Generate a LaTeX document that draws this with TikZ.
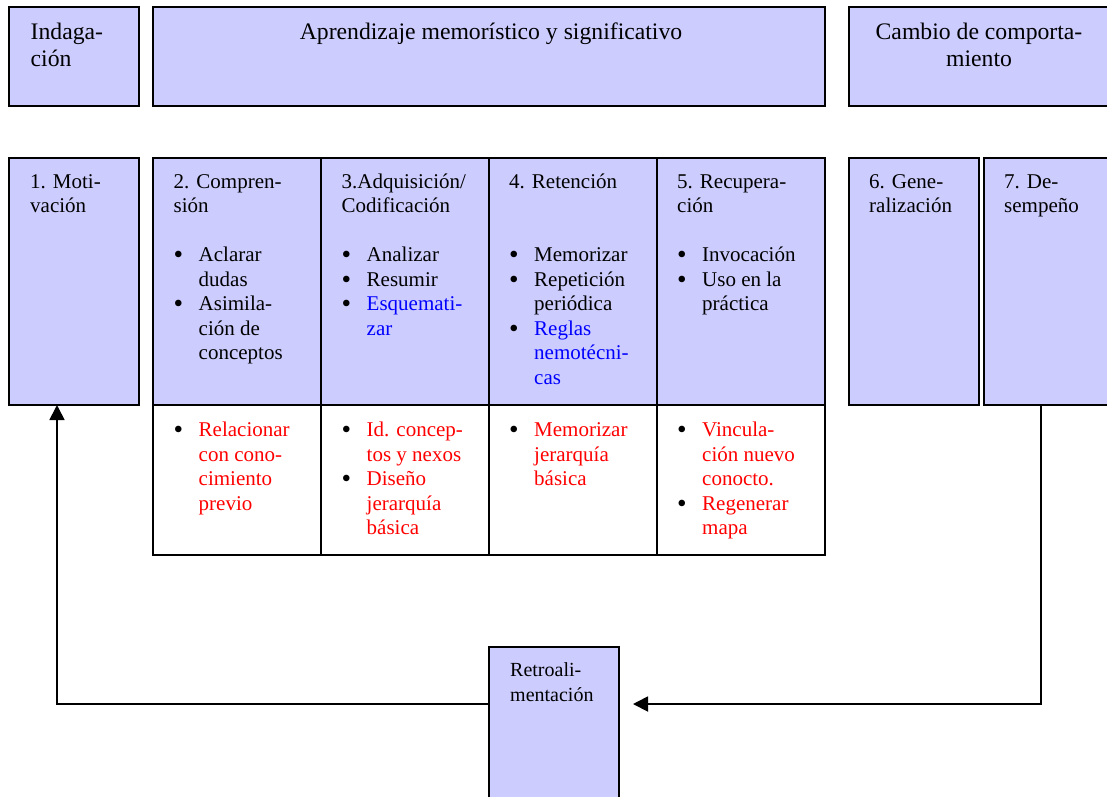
\documentclass[tikz,border=0pt]{standalone}
\usepackage{fontspec}
\setmainfont{Liberation Serif}
\usetikzlibrary{arrows.meta}
\definecolor{lav}{RGB}{204,204,255}
\definecolor{bluetxt}{RGB}{0,0,255}
\definecolor{redtxt}{RGB}{255,0,0}
% bullet line and continuation line of a list
\newcommand{\bigdot}{\raisebox{-1.9pt}{\scalebox{1.3}{\textbullet}}}
\newcommand{\bl}[1]{\makebox[25pt][l]{\color{black}\bigdot}#1}
\newcommand{\bc}[1]{\hspace*{25pt}#1}
% text blocks: first baseline sits on the node's base anchor
\newcommand{\bodytext}[1]{\parbox[t]{170pt}{\raggedright\fontsize{21}{24.6}\selectfont #1}}
\newcommand{\headtext}[1]{\parbox[t]{200pt}{\raggedright\fontsize{23.7}{27}\selectfont #1}}
\begin{document}
\begin{tikzpicture}[x=1pt,y=-1pt,
  box/.style={draw, line width=2pt, fill=lav, anchor=north west, inner sep=0pt, outer sep=0pt},
  wbox/.style={draw, line width=2pt, fill=white, anchor=north west, inner sep=0pt, outer sep=0pt},
  txt/.style={anchor=base west, inner sep=0pt},
  link/.style={line width=1.8pt},
  tip/.style={-{Triangle[length=15pt,width=15pt]}}]
\useasboundingbox (0,0) rectangle (1107,796);
\clip (0,0) rectangle (1107,796);

% top row
\node[box, minimum width=130pt, minimum height=99pt] (indag) at (9,7) {};
\node[box, minimum width=672pt, minimum height=99pt] (aprend) at (153,7) {};
\node[box, minimum width=262pt, minimum height=99pt] (cambio) at (849,7) {};

% second row
\node[box, minimum width=130pt, minimum height=247pt] (motiv) at (9,158) {};
\node[wbox, minimum width=168pt, minimum height=150pt] (c2bot) at (153,405) {};
\node[wbox, minimum width=168pt, minimum height=150pt] (c3bot) at (321,405) {};
\node[wbox, minimum width=168pt, minimum height=150pt] (c4bot) at (489,405) {};
\node[wbox, minimum width=168pt, minimum height=150pt] (c5bot) at (657,405) {};
\node[box, minimum width=168pt, minimum height=247pt] (c2top) at (153,158) {};
\node[box, minimum width=168pt, minimum height=247pt] (c3top) at (321,158) {};
\node[box, minimum width=168pt, minimum height=247pt] (c4top) at (489,158) {};
\node[box, minimum width=168pt, minimum height=247pt] (c5top) at (657,158) {};
\node[box, minimum width=130pt, minimum height=247pt] (gen) at (849,158) {};
\node[box, minimum width=130pt, minimum height=247pt] (desemp) at (984,158) {};

% feedback box
\node[box, minimum width=130pt, minimum height=170pt] (retro) at (489,647) {};

% top row texts
\node[txt] (tindag) at (30.5,39.5) {\headtext{Indaga-\\ción}};
\node[anchor=base, inner sep=0pt] (taprend) at (491,39.5) {\fontsize{23.7}{27}\selectfont Aprendizaje memorístico y significativo};
\node[anchor=base, inner sep=0pt] (tcambio) at (979,39.5) {\parbox[t]{250pt}{\centering\fontsize{23.7}{27}\selectfont Cambio de comporta-\\miento}};

% headings of the stages
\node[txt] (hmotiv) at (30,188) {\bodytext{1. Moti-\\vación}};
\node[txt] (hc2) at (173.5,188) {\bodytext{2. Compren-\\sión}};
\node[txt] (hc3) at (341.5,188) {\bodytext{3.Adquisición/\\Codificación}};
\node[txt] (hc4) at (509,188) {\bodytext{4. Retención}};
\node[txt] (hc5) at (677,188) {\bodytext{5. Recupera-\\ción}};
\node[txt] (hgen) at (869,188) {\bodytext{6. Gene-\\ralización}};
\node[txt] (hdesemp) at (1004,188) {\bodytext{7. De-\\sempeño}};

% activities of each stage
\node[txt] (lc2) at (173.5,261.5) {\bodytext{\bl{Aclarar}\\\bc{dudas}\\\bl{Asimila-}\\\bc{ción de}\\\bc{conceptos}}};
\node[txt] (lc3) at (341.5,261.5) {\bodytext{\bl{Analizar}\\\bl{Resumir}\\\bl{\color{bluetxt}Esquemati-}\\\bc{\color{bluetxt}zar}}};
\node[txt] (lc4) at (509,261.5) {\bodytext{\bl{Memorizar}\\\bl{Repetición}\\\bc{periódica}\\\bl{\color{bluetxt}Reglas}\\\bc{\color{bluetxt}nemotécni-}\\\bc{\color{bluetxt}cas}}};
\node[txt] (lc5) at (677,261.5) {\bodytext{\bl{Invocación}\\\bl{Uso en la}\\\bc{práctica}}};

% concept-map activities
\node[txt] (mc2) at (173.5,436.5) {\bodytext{\bl{\color{redtxt}Relacionar}\\\bc{\color{redtxt}con cono-}\\\bc{\color{redtxt}cimiento}\\\bc{\color{redtxt}previo}}};
\node[txt] (mc3) at (341.5,436.5) {\bodytext{\bl{\color{redtxt}Id. concep-}\\\bc{\color{redtxt}tos y nexos}\\\bl{\color{redtxt}Diseño}\\\bc{\color{redtxt}jerarquía}\\\bc{\color{redtxt}básica}}};
\node[txt] (mc4) at (509,436.5) {\bodytext{\bl{\color{redtxt}Memorizar}\\\bc{\color{redtxt}jerarquía}\\\bc{\color{redtxt}básica}}};
\node[txt] (mc5) at (677,436.5) {\bodytext{\bl{\color{redtxt}Vincula-}\\\bc{\color{redtxt}ción nuevo}\\\bc{\color{redtxt}conocto.}\\\bl{\color{redtxt}Regenerar}\\\bc{\color{redtxt}mapa}}};

% feedback label
\node[txt] (tretro) at (510,676) {\parbox[t]{120pt}{\raggedright\fontsize{20}{25.7}\selectfont Retroali-\\mentación}};

% feedback loop
\coordinate (fbL) at (57,704);
\coordinate (fbR) at (1041,704);
\coordinate (retroIn) at (633,704);
\draw[link,tip] (retro.west |- fbL) -- (fbL) -- (fbL |- motiv.south);
\draw[link,tip] (fbR |- desemp.south) -- (fbR) -- (retroIn);
\end{tikzpicture}
\end{document}
